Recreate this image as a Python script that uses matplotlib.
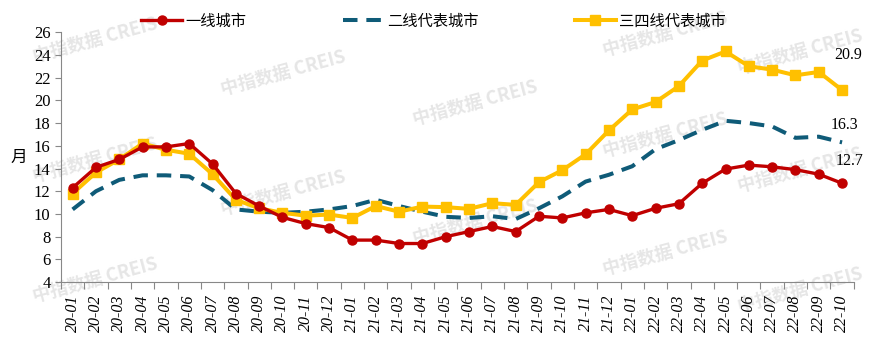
import matplotlib.pyplot as plt
import numpy as np

plt.rcParams["font.family"] = ["Liberation Serif", "Noto Sans CJK SC"]

months = ["20-01", "20-02", "20-03", "20-04", "20-05", "20-06", "20-07", "20-08", "20-09", "20-10",
          "20-11", "20-12", "21-01", "21-02", "21-03", "21-04", "21-05", "21-06", "21-07", "21-08",
          "21-09", "21-10", "21-11", "21-12", "22-01", "22-02", "22-03", "22-04", "22-05", "22-06",
          "22-07", "22-08", "22-09", "22-10"]
tier1 = [12.3, 14.1, 14.8, 15.9, 15.9, 16.2, 14.4, 11.8, 10.7, 9.7,
         9.15, 8.8, 7.7, 7.7, 7.4, 7.4, 8.0, 8.45, 8.9, 8.45,
         9.8, 9.65, 10.1, 10.4, 9.85, 10.5, 10.9, 12.7, 13.95, 14.3,
         14.15, 13.9, 13.5, 12.7]
tier2 = [10.4, 12.0, 13.0, 13.4, 13.4, 13.3, 12.1, 10.4, 10.2, 10.1,
         10.2, 10.4, 10.7, 11.25, 10.7, 10.2, 9.75, 9.65, 9.8, 9.55,
         10.5, 11.55, 12.85, 13.45, 14.2, 15.7, 16.5, 17.4, 18.2, 18.0,
         17.7, 16.7, 16.8, 16.3]
tier34 = [11.8, 13.65, 14.8, 16.2, 15.65, 15.3, 13.5, 11.25, 10.5, 10.1,
          9.85, 9.95, 9.65, 10.7, 10.2, 10.65, 10.6, 10.45, 10.95, 10.8,
          12.8, 13.85, 15.25, 17.35, 19.2, 19.85, 21.25, 23.5, 24.3, 23.0,
          22.7, 22.2, 22.5, 20.9]

x = np.arange(len(months))

fig = plt.figure(figsize=(8.76, 3.42), dpi=100)
ax = fig.add_axes([0.0696, 0.175, 0.905, 0.731])

# faint watermark, pixel centres
marks = [(95, 40), (95, 160), (95, 280), (283, 73), (283, 193), (475, 103), (475, 222),
         (665, 34), (665, 135), (665, 253), (800, 52), (800, 170), (800, 290)]
for px, py in marks:
    ax.text(px / 876, 1 - py / 342, "中指数据 CREIS", transform=fig.transFigure, fontsize=13,
            color="#e6e6e6", rotation=15, ha="center", va="center",
            family=["Noto Sans CJK SC"], fontweight="bold", zorder=1)

ax.plot(x, tier1, color="#C00000", lw=2.4, marker="o", ms=6.5, label="一线城市", zorder=4)
ax.plot(x, tier2, color="#0F5B78", lw=2.9, ls=(0, (3.6, 2.2)), label="二线代表城市", zorder=3)
ax.plot(x, tier34, color="#FFC000", lw=2.9, marker="s", ms=7, label="三四线代表城市", zorder=3)

ax.text(x[-1] + 0.25, tier34[-1] + 3.1, f"{tier34[-1]:.1f}", fontsize=11.5, ha="center", va="center")
ax.text(x[-1] + 0.1, tier2[-1] + 1.5, f"{tier2[-1]:.1f}", fontsize=11.5, ha="center", va="center")
ax.text(x[-1] + 0.3, tier1[-1] + 2.0, f"{tier1[-1]:.1f}", fontsize=11.5, ha="center", va="center")

ax.set_xlim(-0.5, len(months) - 0.5)
ax.set_ylim(4, 26)
ax.set_yticks(np.arange(4, 27, 2))
ax.tick_params(axis="y", labelsize=12, length=4, color="#888888")
ax.set_xticks(np.arange(-0.5, len(months), 1))
ax.set_xticklabels([])
ax.set_xticks(x, minor=True)
ax.set_xticklabels(months, minor=True, rotation=90, fontsize=11.5, style="italic")
ax.tick_params(axis="x", which="minor", length=0, pad=9)
ax.tick_params(axis="x", which="major", length=5, color="#888888")

for s in ["top", "right"]:
    ax.spines[s].set_visible(False)
for s in ["left", "bottom"]:
    ax.spines[s].set_color("#888888")

fig.text(0.012, 0.54, "月", fontsize=12, family=["Noto Sans CJK SC"], va="center")

ax.legend(loc="lower center", bbox_to_anchor=(0.47, 0.985), ncol=3, frameon=False,
          prop={"family": "Noto Sans CJK SC", "size": 11}, columnspacing=6.3,
          handlelength=2.7, handletextpad=0.2, borderaxespad=0)

fig.savefig("out.png", dpi=100)
